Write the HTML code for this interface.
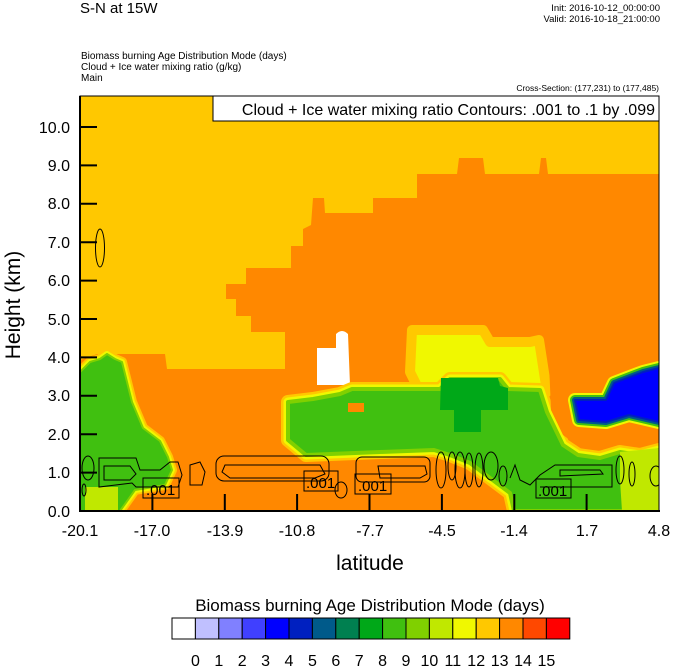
<!DOCTYPE html>
<html><head><meta charset="utf-8"><style>
html,body{margin:0;padding:0;background:#fff;}
body{width:674px;height:668px;overflow:hidden;}
svg{display:block;font-family:"Liberation Sans",sans-serif;}
</style></head><body>
<svg width="674" height="668" viewBox="0 0 674 668" xmlns="http://www.w3.org/2000/svg">
<defs><clipPath id="pc"><rect x="80" y="96" width="579" height="415"/></clipPath></defs>
<g clip-path="url(#pc)">
<rect x="80" y="96" width="579" height="415" fill="#ff8800"/>
<polygon fill="#ffc800" points="80,96 659,96 659,174 548,174 546,158 541,158 539,174 485,174 483,158 459,158 457,174 417,174 417,198 373,198 373,213 325,213 324,198 313,198 311,225 303,229 303,246 291,246 291,268 246,268 246,284 226,284 226,299 236,299 236,316 251,316 251,332 285,332 285,369 167,369 165,354 97,354 80,360"/>
<g stroke-linejoin="round">
<polygon points="412,330 483,330 490,342 530,342 539,340 547,392 508,390 500,380 450,380 440,388 418,388 410,372" fill="#f0f800" stroke="#ffc800" stroke-width="10"/>
</g>
<path d="M317,348 L336,348 L336,334 Q342,328 348,334 L350,385 L317,385 Z" fill="#fff"/>
<g stroke-linejoin="round">
<polygon points="288,402 313,399 340,394 352,389 440,389 450,379 500,379 508,389 540,390 547,412 563,445 578,455 600,458 620,452 640,455 659,450 659,511 514,511 510,493 490,478 470,463 450,455 434,450 380,452 306,455 288,440" fill="none" stroke="#ffc800" stroke-width="14"/>
<polygon points="288,402 313,399 340,394 352,389 440,389 450,379 500,379 508,389 540,390 547,412 563,445 578,455 600,458 620,452 640,455 659,450 659,511 514,511 510,493 490,478 470,463 450,455 434,450 380,452 306,455 288,440" fill="none" stroke="#f0f800" stroke-width="9"/>
<polygon points="288,402 313,399 340,394 352,389 440,389 450,379 500,379 508,389 540,390 547,412 563,445 578,455 600,458 620,452 640,455 659,450 659,511 514,511 510,493 490,478 470,463 450,455 434,450 380,452 306,455 288,440" fill="#40c010" stroke="#80d000" stroke-width="4"/>
</g>
<polygon points="348,403 364,403 364,412 348,412" fill="#ff8800"/>
<polygon points="548,340 659,340 659,440 640,445 620,440 600,447 578,446 563,435 551,410" fill="#ff8800"/>
<polygon points="620,452 640,450 659,448 659,511 622,511 620,480" fill="#c0e800"/>
<polygon points="441,378 498,378 500,386 508,388 508,410 481,410 481,432 454,432 454,410 440,410" fill="#00a818"/>
<g stroke-linejoin="round">
<polygon points="575,400 606,400 614,383 643,372 659,368 659,422 629,415 606,422 579,420" fill="none" stroke="#f0f800" stroke-width="14"/>
<polygon points="575,400 606,400 614,383 643,372 659,368 659,422 629,415 606,422 579,420" fill="none" stroke="#40c010" stroke-width="10"/>
<polygon points="575,400 606,400 614,383 643,372 659,368 659,422 629,415 606,422 579,420" fill="none" stroke="#005a8a" stroke-width="6"/>
<polygon points="575,400 606,400 614,383 643,372 659,368 659,422 629,415 606,422 579,420" fill="#0000ff" stroke="#0020c0" stroke-width="2"/>
</g>
<g stroke-linejoin="round">
<polygon points="80,372 90,362 100,359 107,354 115,359 122,362 132,402 143,428 160,441 168,457 172,470 165,485 135,490 120,511 80,511" fill="none" stroke="#ffc800" stroke-width="10"/>
<polygon points="80,372 90,362 100,359 107,354 115,359 122,362 132,402 143,428 160,441 168,457 172,470 165,485 135,490 120,511 80,511" fill="none" stroke="#f0f800" stroke-width="6"/>
<polygon points="80,372 90,362 100,359 107,354 115,359 122,362 132,402 143,428 160,441 168,457 172,470 165,485 135,490 120,511 80,511" fill="#40c010" stroke="#80d000" stroke-width="2"/>
</g>
<polygon points="85,487 118,487 118,511 85,511" fill="#c0e800"/>
<g fill="none" stroke="#000" stroke-width="1">
<ellipse cx="100" cy="248" rx="4.5" ry="19"/>
<path d="M99,458 L136,458 L140,470 L160,470 L170,462 L178,462 L182,475 L178,487 L136,487 L132,483 L99,487 Z"/>
<path d="M104,466 L130,466 L136,474 L130,480 L104,480 Z"/>
<ellipse cx="88" cy="468" rx="6" ry="12"/>
<ellipse cx="84" cy="490" rx="2" ry="6"/>
<path d="M190,465 L200,462 L205,472 L202,485 L190,485 Z"/>
<rect x="216" y="456" width="113" height="25" rx="8"/>
<path d="M225,465 L320,465 L325,474 L315,478 L230,478 L222,472 Z"/>
<ellipse cx="341" cy="490" rx="6" ry="8"/>
<rect x="356" y="457" width="74" height="25" rx="6"/>
<path d="M378,466 L425,466 L427,474 L420,478 L380,478 Z"/>
<ellipse cx="441" cy="470" rx="5" ry="18"/>
<ellipse cx="452" cy="466" rx="4" ry="14"/>
<ellipse cx="460" cy="470" rx="5" ry="18"/>
<ellipse cx="469" cy="470" rx="4" ry="17"/>
<ellipse cx="479" cy="470" rx="4" ry="17"/>
<ellipse cx="491" cy="466" rx="7" ry="14"/>
<ellipse cx="503" cy="476" rx="4" ry="10"/>
<path d="M510,478 L515,465 L520,480 L530,485 L540,475 L555,465 L612,465 L612,487 L540,487"/>
<path d="M560,470 L600,470 L603,474 L560,476 Z"/>
<ellipse cx="620" cy="470" rx="4" ry="14"/>
<ellipse cx="632" cy="474" rx="3" ry="12"/>
<ellipse cx="656" cy="476" rx="6" ry="10"/>
</g>
<g font-size="15" fill="#000">
<rect x="143" y="478" width="36" height="20" fill="none" stroke="#000"/><text x="146" y="495">.001</text>
<rect x="304" y="471" width="34" height="20" fill="none" stroke="#000"/><text x="306" y="488">.001</text>
<rect x="355" y="474" width="36" height="20" fill="none" stroke="#000"/><text x="358" y="491">.001</text>
<rect x="536" y="479" width="35" height="19" fill="none" stroke="#000"/><text x="538" y="496">.001</text>
</g>
</g>
<rect x="80" y="96" width="579" height="415" fill="none" stroke="#000" stroke-width="1"/>
<line x1="80" y1="96" x2="80" y2="512" stroke="#000" stroke-width="2"/>
<line x1="79" y1="511" x2="660" y2="511" stroke="#000" stroke-width="2"/>
<g stroke="#000" stroke-width="2">
<line x1="80" y1="472.6" x2="97" y2="472.6"/><line x1="80" y1="434.2" x2="97" y2="434.2"/><line x1="80" y1="395.8" x2="97" y2="395.8"/><line x1="80" y1="357.4" x2="97" y2="357.4"/><line x1="80" y1="319" x2="97" y2="319"/><line x1="80" y1="280.6" x2="97" y2="280.6"/><line x1="80" y1="242.2" x2="97" y2="242.2"/><line x1="80" y1="203.8" x2="97" y2="203.8"/><line x1="80" y1="165.4" x2="97" y2="165.4"/><line x1="80" y1="127" x2="97" y2="127"/>
<line x1="152.4" y1="511" x2="152.4" y2="494"/><line x1="224.8" y1="511" x2="224.8" y2="494"/><line x1="297.1" y1="511" x2="297.1" y2="494"/><line x1="369.5" y1="511" x2="369.5" y2="494"/><line x1="441.9" y1="511" x2="441.9" y2="494"/><line x1="514.3" y1="511" x2="514.3" y2="494"/><line x1="586.6" y1="511" x2="586.6" y2="494"/>
</g>
<g font-size="16" text-anchor="end" fill="#000">
<text x="70" y="517">0.0</text><text x="70" y="478">1.0</text><text x="70" y="440">2.0</text><text x="70" y="401">3.0</text><text x="70" y="363">4.0</text><text x="70" y="325">5.0</text><text x="70" y="286">6.0</text><text x="70" y="248">7.0</text><text x="70" y="209">8.0</text><text x="70" y="171">9.0</text><text x="70" y="133">10.0</text>
</g>
<g font-size="16" text-anchor="middle" fill="#000">
<text x="80" y="536">-20.1</text><text x="152" y="536">-17.0</text><text x="225" y="536">-13.9</text><text x="297" y="536">-10.8</text><text x="370" y="536">-7.7</text><text x="442" y="536">-4.5</text><text x="514" y="536">-1.4</text><text x="587" y="536">1.7</text><text x="659" y="536">4.8</text>
</g>
<text x="370" y="570" font-size="21" text-anchor="middle">latitude</text>
<text transform="translate(20,305) rotate(-90)" font-size="21" text-anchor="middle">Height (km)</text>
<rect x="213" y="96" width="446" height="25" fill="#fff" stroke="#000"/>
<text x="655" y="115" font-size="16" text-anchor="end">Cloud + Ice water mixing ratio Contours: .001 to .1 by .099</text>
<text x="80" y="13" font-size="15">S-N at 15W</text>
<text x="660" y="11" font-size="9.5" text-anchor="end">Init: 2016-10-12_00:00:00</text>
<text x="660" y="22" font-size="9.5" text-anchor="end">Valid: 2016-10-18_21:00:00</text>
<text x="81" y="59" font-size="10">Biomass burning Age Distribution Mode   (days)</text>
<text x="81" y="70" font-size="10">Cloud + Ice water mixing ratio   (g/kg)</text>
<text x="81" y="81" font-size="10">Main</text>
<text x="659" y="91" font-size="8.5" text-anchor="end">Cross-Section: (177,231) to (177,485)</text>
<text x="370" y="611" font-size="17" text-anchor="middle">Biomass burning Age Distribution Mode  (days)</text>
<g stroke="#000" stroke-width="1">
<rect x="172" y="618" width="23.4" height="21" fill="#ffffff"/>
<rect x="195.4" y="618" width="23.4" height="21" fill="#c0c0ff"/>
<rect x="218.8" y="618" width="23.4" height="21" fill="#8080ff"/>
<rect x="242.2" y="618" width="23.4" height="21" fill="#4040ff"/>
<rect x="265.6" y="618" width="23.4" height="21" fill="#0000ff"/>
<rect x="289" y="618" width="23.4" height="21" fill="#0020c0"/>
<rect x="312.4" y="618" width="23.4" height="21" fill="#005a8a"/>
<rect x="335.8" y="618" width="23.4" height="21" fill="#008050"/>
<rect x="359.2" y="618" width="23.4" height="21" fill="#00a818"/>
<rect x="382.6" y="618" width="23.4" height="21" fill="#40c010"/>
<rect x="406" y="618" width="23.4" height="21" fill="#80d000"/>
<rect x="429.4" y="618" width="23.4" height="21" fill="#c0e800"/>
<rect x="452.8" y="618" width="23.4" height="21" fill="#f0f800"/>
<rect x="476.2" y="618" width="23.4" height="21" fill="#ffc800"/>
<rect x="499.6" y="618" width="23.4" height="21" fill="#ff8800"/>
<rect x="523" y="618" width="23.4" height="21" fill="#ff4800"/>
<rect x="546.4" y="618" width="23.4" height="21" fill="#ff0000"/>
</g>
<g font-size="16" text-anchor="middle">
<text x="195.4" y="666">0</text><text x="218.8" y="666">1</text><text x="242.2" y="666">2</text><text x="265.6" y="666">3</text><text x="289" y="666">4</text><text x="312.4" y="666">5</text><text x="335.8" y="666">6</text><text x="359.2" y="666">7</text><text x="382.6" y="666">8</text><text x="406" y="666">9</text><text x="429.4" y="666">10</text><text x="452.8" y="666">11</text><text x="476.2" y="666">12</text><text x="499.6" y="666">13</text><text x="523" y="666">14</text><text x="546.4" y="666">15</text>
</g>
</svg>
</body></html>
